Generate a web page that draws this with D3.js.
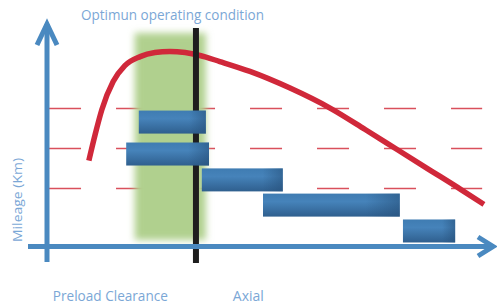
<!DOCTYPE html>
<html><head><meta charset="utf-8">
<script src="https://cdn.jsdelivr.net/npm/d3@7"></script>
<style>html,body{margin:0;padding:0;background:#fff;}svg{display:block;}</style>
</head><body>
<script>
// ---- data (chart units: x 0..100 axial position, y 0..100 mileage) ----
const titleText = "Optimun operating condition";
const yAxisLabel = "Mileage (Km)";
const xCategoryLabels = ["Preload Clearance", "Axial"];
const xCategoryPos = [1.3, 41.3];
const gridLevels = [61.3, 43.6, 25.8];
const optimumBand = [19.5, 35.3];
const optimumLine = 33.1;
const barStart = [20.4, 17.6, 34.4, 48.0, 79.1];
const barEnd   = [35.3, 36.0, 52.4, 78.4, 90.7];
const barLevel = [55.3, 41.1, 29.6, 18.4, 6.9];
const curveX = [9.3, 10.7, 12.2, 14.7, 17.3, 20.7, 24.0, 27.3, 30.7, 34.0, 38.4, 45.1, 54.0, 63.1, 70.7, 77.8, 84.9, 92.0, 97.1];
const curveY = [38.2, 49.8, 60.9, 73.3, 80.4, 84.4, 86.2, 86.7, 86.2, 84.9, 82.2, 77.8, 70.4, 61.3, 52.0, 43.1, 34.2, 25.3, 18.7];

const W = 497, H = 304;
const x = d3.scaleLinear().domain([0, 100]).range([47, 497]);
const y = d3.scaleLinear().domain([0, 100]).range([246.5, 21.5]);

const svg = d3.select("body").append("svg").attr("width", W).attr("height", H);
const defs = svg.append("defs");
defs.append("filter").attr("id", "blur").attr("x", "-20%").attr("y", "-10%").attr("width", "140%").attr("height", "120%")
  .append("feGaussianBlur").attr("stdDeviation", 3.5);
const g1 = defs.append("linearGradient").attr("id", "barV").attr("x1", 0).attr("y1", 0).attr("x2", 0).attr("y2", 1);
g1.append("stop").attr("offset", "0%").attr("stop-color", "#3f7cb2");
g1.append("stop").attr("offset", "35%").attr("stop-color", "#4683ba");
g1.append("stop").attr("offset", "100%").attr("stop-color", "#2f5f8e");
const g2 = defs.append("linearGradient").attr("id", "barH").attr("x1", 0).attr("y1", 0).attr("x2", 1).attr("y2", 0);
g2.append("stop").attr("offset", "0%").attr("stop-color", "#26507a").attr("stop-opacity", 0);
g2.append("stop").attr("offset", "75%").attr("stop-color", "#26507a").attr("stop-opacity", 0);
g2.append("stop").attr("offset", "100%").attr("stop-color", "#26507a").attr("stop-opacity", 0.55);

const textColor = "#7ba7d6";
const axisColor = "#4a89c0";
const font = "'Open Sans', Lato, sans-serif";

// dashed grid lines
svg.append("g").selectAll("line").data(gridLevels).join("line")
  .attr("x1", x(0.45)).attr("x2", x(96.7))
  .attr("y1", d => y(d)).attr("y2", d => y(d))
  .attr("stroke", "#d9505c").attr("stroke-width", 1.5)
  .attr("stroke-dasharray", "32,35");

// optimum band (blurred green)
svg.append("rect")
  .attr("x", x(optimumBand[0])).attr("width", x(optimumBand[1]) - x(optimumBand[0]))
  .attr("y", 33).attr("height", 207)
  .attr("fill", "#b0d08e").attr("filter", "url(#blur)");

// red curve
const pts = curveX.map((d, i) => [x(d), y(curveY[i])]);
svg.append("path").datum(pts)
  .attr("d", d3.line().curve(d3.curveMonotoneX))
  .attr("fill", "none").attr("stroke", "#d0283a").attr("stroke-width", 5.5);

// black optimum line
svg.append("line")
  .attr("x1", x(optimumLine)).attr("x2", x(optimumLine))
  .attr("y1", 28).attr("y2", 263)
  .attr("stroke", "#1e1e1e").attr("stroke-width", 6);

// bars
const barH = 23;
const bars = svg.append("g").selectAll("g").data(barStart).join("g");
bars.append("rect")
  .attr("x", (d) => x(d)).attr("width", (d, i) => x(barEnd[i]) - x(d))
  .attr("y", (d, i) => y(barLevel[i]) - barH / 2).attr("height", barH)
  .attr("fill", "url(#barV)");
bars.append("rect")
  .attr("x", (d) => x(d)).attr("width", (d, i) => x(barEnd[i]) - x(d))
  .attr("y", (d, i) => y(barLevel[i]) - barH / 2).attr("height", barH)
  .attr("fill", "url(#barH)");

// axes
svg.append("line").attr("x1", 28).attr("x2", 494).attr("y1", y(0)).attr("y2", y(0))
  .attr("stroke", axisColor).attr("stroke-width", 5);
svg.append("line").attr("x1", x(0)).attr("x2", x(0)).attr("y1", 262).attr("y2", 24)
  .attr("stroke", axisColor).attr("stroke-width", 5);
svg.append("polyline").attr("points", `${x(0)-10},45 ${x(0)},24 ${x(0)+10},45`)
  .attr("fill", "none").attr("stroke", axisColor).attr("stroke-width", 5).attr("stroke-linejoin", "miter");
svg.append("polyline").attr("points", `478,${y(0)-9.5} 493,${y(0)} 478,${y(0)+9.5}`)
  .attr("fill", "none").attr("stroke", axisColor).attr("stroke-width", 5).attr("stroke-linejoin", "miter");

// texts
svg.append("text").text(titleText)
  .attr("x", 81).attr("y", 20).attr("font-family", font).attr("font-size", 15)
  .attr("fill", textColor).attr("textLength", 183).attr("lengthAdjust", "spacingAndGlyphs");
svg.append("text").text(yAxisLabel)
  .attr("transform", "translate(22,200) rotate(-90)").attr("text-anchor", "middle")
  .attr("font-family", font).attr("font-size", 13.5).attr("fill", textColor)
  .attr("textLength", 84).attr("lengthAdjust", "spacingAndGlyphs");
const xLabelWidths = [115, 31];
svg.append("g").selectAll("text").data(xCategoryLabels).join("text")
  .text(d => d)
  .attr("x", (d, i) => x(xCategoryPos[i])).attr("y", 301)
  .attr("font-family", font).attr("font-size", 14).attr("fill", textColor)
  .attr("textLength", (d, i) => xLabelWidths[i]).attr("lengthAdjust", "spacingAndGlyphs");
</script>
</body></html>
